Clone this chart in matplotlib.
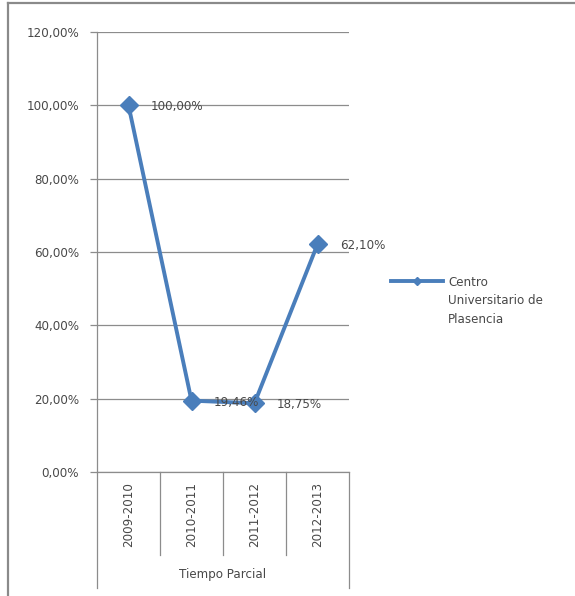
import matplotlib
matplotlib.use("Agg")
import matplotlib.pyplot as plt
from matplotlib.lines import Line2D

categories = ["2009-2010", "2010-2011", "2011-2012", "2012-2013"]
values = [100.00, 19.46, 18.75, 62.10]
value_labels = ["100,00%", "19,46%", "18,75%", "62,10%"]
yticks = [0, 20, 40, 60, 80, 100, 120]
ytick_labels = ["0,00%", "20,00%", "40,00%", "60,00%", "80,00%", "100,00%", "120,00%"]
group_label = "Tiempo Parcial"
series_name = "Centro\nUniversitario de\nPlasencia"

plt.rcParams['font.family'] = ['DejaVu Sans']
FS = 8.6
W, H = 575, 596
fig = plt.figure(figsize=(W / 100, H / 100), dpi=100)
ax = fig.add_axes([97 / W, 1 - 472 / H, (349 - 97) / W, (472 - 32) / H])

blue = "#4A7EBB"
grid = "#8C8C8C"
txt = "#484848"

x = list(range(len(categories)))
line, = ax.plot(x, values, color=blue, lw=2.8, marker="D", markersize=9,
                markerfacecolor=blue, markeredgecolor=blue, label=series_name, zorder=3)
for xi, v, lab in zip(x, values, value_labels):
    ax.annotate(lab, (xi, v), xytext=(16, -1), textcoords="offset points",
                ha="left", va="center", fontsize=FS, color=txt, zorder=4)

ax.set_xlim(-0.5, 3.5)
ax.set_ylim(0, 120)
ax.set_yticks(yticks)
ax.set_yticklabels(ytick_labels, fontsize=FS, color=txt)
ax.yaxis.grid(True, color=grid, lw=0.9)
ax.set_axisbelow(True)
ax.tick_params(axis="y", length=5, color=grid, width=0.9, pad=8)
ax.set_xticks([])
for s in ["top", "right"]:
    ax.spines[s].set_visible(False)
ax.spines["left"].set_color(grid)
ax.spines["bottom"].set_color(grid)
ax.spines["left"].set_linewidth(0.9)
ax.spines["bottom"].set_linewidth(0.9)

xt = ax.get_xaxis_transform()
for xi, c in zip(x, categories):
    ax.text(xi, -0.022, c, rotation=90, ha="center", va="top", fontsize=FS,
            color=txt, transform=xt)
for b in [0.5, 1.5, 2.5]:
    ax.plot([b, b], [0, -0.1886], color=grid, lw=0.9, transform=xt, clip_on=False)
for b in [-0.5, 3.5]:
    ax.plot([b, b], [0, -0.2636], color=grid, lw=0.9, transform=xt, clip_on=False)
ax.text(1.5, -0.234, group_label, ha="center", va="center", fontsize=FS,
        color=txt, transform=xt)

LS = 1.55
leg = ax.legend(loc="upper left", bbox_to_anchor=(380 / W, 1 - 265 / H),
                bbox_transform=fig.transFigure, frameon=False, fontsize=FS,
                handlelength=4.4, handletextpad=0.4, labelspacing=0.2)
for t in leg.get_texts():
    t.set_color(txt)
    t.set_linespacing(LS)
h = leg.legend_handles[0]
h.set_markersize(4)
h.set_ydata([yy + 14.6 for yy in h.get_ydata()])

fig.add_artist(Line2D([8 / W, 8 / W], [0, 1 - 3 / H], color="#8A8A8A", lw=1.6,
                      transform=fig.transFigure))
fig.add_artist(Line2D([8 / W, 1], [1 - 3 / H, 1 - 3 / H], color="#8A8A8A", lw=1.6,
                      transform=fig.transFigure))

fig.savefig("out.png", dpi=100)
